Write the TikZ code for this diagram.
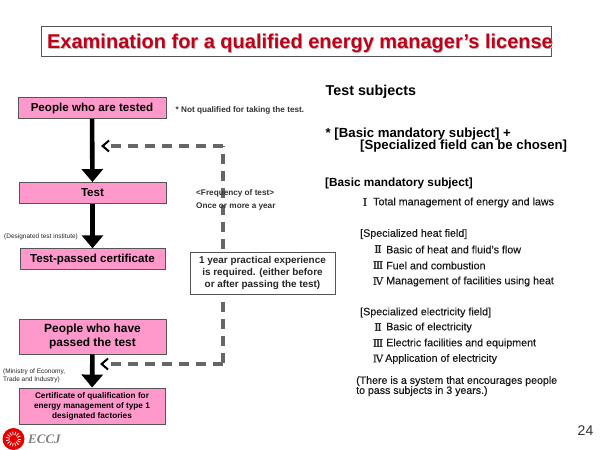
\documentclass[tikz,border=0pt]{standalone}
\usepackage{fontspec}
\setmainfont{Liberation Sans}
\newfontfamily\semifont[FakeBold=0.25]{Liberation Sans}
\newfontfamily\romanfont[FakeBold=0.5]{DejaVu Serif}
\newfontfamily\logofont{Liberation Serif}
\usetikzlibrary{arrows.meta}
\definecolor{boxpink}{HTML}{FF99CC}
\definecolor{titlered}{HTML}{C00018}
\definecolor{edgegray}{HTML}{555555}
\definecolor{dashgray}{HTML}{666666}
\tikzset{
  pinkbox/.style={draw=edgegray,line width=0.9pt,fill=boxpink,align=center,inner sep=0pt,font=\bfseries,text=black},
  oneline/.style={text height=8.3pt,text depth=2.3pt},
  thickarrow/.style={line width=4.6pt,-{Triangle[length=13pt,width=21pt]}},
  dasharrow/.style={line width=3.3pt,dashgray,dash pattern=on 10pt off 7pt,-{Straight Barb[length=6.5pt,width=11pt,line width=2pt,black]}},
  dashline/.style={line width=3.3pt,dashgray,dash pattern=on 10pt off 7pt},
  small/.style={anchor=west,inner sep=0pt,font=\fontsize{8.2}{10}\selectfont\bfseries,text=black!80},
  tiny/.style={anchor=west,inner sep=0pt,align=left,font=\fontsize{6.5}{7.6}\selectfont,text=black!85},
  subj/.style={anchor=west,inner sep=0pt,font=\fontsize{10.7}{12}\semifont,text=black!90},
  numeral/.style={anchor=center,inner sep=0pt,font=\fontsize{10.5}{12}\romanfont,text=black!85},
  head/.style={anchor=west,inner sep=0pt,align=left,font=\fontsize{13.2}{14}\selectfont\bfseries,text=black}
}
\begin{document}
\begin{tikzpicture}[x=1pt,y=-1pt]
\useasboundingbox (0,0) rectangle (600,450);
\fill[white] (0,0) rectangle (600,450);
% title
\node[draw=edgegray,line width=0.9pt,minimum width=510pt,minimum height=30pt,inner sep=0pt] (titlebox) at (296.5,41) {};
\node[inner sep=0pt,text=black!25,font=\fontsize{20}{24}\selectfont\bfseries] (titleshadow) at (300.8,44.4) {Examination for a qualified energy manager’s license};
\node[inner sep=0pt,text=titlered,font=\fontsize{20}{24}\selectfont\bfseries] (titletext) at (300,43.6) {Examination for a qualified energy manager’s license};
% pink boxes
\node[pinkbox,oneline,minimum width=148pt,minimum height=21pt,font=\fontsize{11.6}{12}\selectfont\bfseries] (tested) at (92,108) {People who are tested};
\node[pinkbox,oneline,minimum width=147pt,minimum height=21pt,font=\fontsize{11.6}{12}\selectfont\bfseries] (test) at (92.5,193) {Test};
\node[pinkbox,oneline,minimum width=145pt,minimum height=20.5pt,font=\fontsize{11.6}{12}\selectfont\bfseries] (passcert) at (92.5,259) {Test-passed certificate};
\node[pinkbox,minimum width=147pt,minimum height=35pt,font=\fontsize{11.9}{14.5}\selectfont\bfseries] (passed) at (92.5,336.5) {People who have\\passed the test};
\node[pinkbox,minimum width=146pt,minimum height=36pt,font=\fontsize{8.2}{10}\selectfont\bfseries] (cert) at (92,406) {Certificate of qualification for\\energy management of type 1\\designated factories};
% thick arrows
\draw[thickarrow] (tested) -- (test);
\draw[thickarrow] (test) -- (passcert);
\draw[thickarrow] (passed) -- (cert);
% dashed connectors
\node[draw=edgegray,line width=0.9pt,fill=white,minimum width=145pt,minimum height=42pt,align=center,inner sep=0pt,font=\fontsize{9.9}{12}\selectfont\bfseries,text=black!85] (note) at (262.5,273) {1 year practical experience\\is required. (either before\\or after passing the test)};
\coordinate (upcorner) at (223,146);
\coordinate (uptip) at (101,146);
\coordinate (lowcorner) at (223,364);
\coordinate (lowtip) at (100,364);
\draw[dashline] (note.north -| upcorner) ++(0,-3) -- (upcorner);
\draw[dasharrow] (upcorner) -- (uptip);
\draw[dashline] (note.south -| lowcorner) ++(0,8) -- (lowcorner);
\draw[dasharrow] (lowcorner) -- (lowtip);
% side text (over the dashes)
\node[small] (freq) at (196,193) {<Frequency of test>};
\node[small] (once) at (196,206) {Once or more a year};
% small notes
\node[small] (notq) at (175.5,110) {* Not qualified for taking the test.};
\node[tiny] (inst) at (4,236.5) {(Designated test institute)};
\node[tiny] (meti) at (3,376) {(Ministry of Economy,\\Trade and Industry)};
% right column
\node[anchor=west,inner sep=0pt,font=\fontsize{14.3}{16}\selectfont\bfseries] (subjhead) at (325.5,91.5) {Test subjects};
\node[head] (star) at (325.5,134) {* [Basic mandatory subject] +};
\node[head] (spec) at (360,146.5) {[Specialized field can be chosen]};
\node[anchor=west,inner sep=0pt,font=\fontsize{11.8}{14}\selectfont\bfseries] (basic) at (325,183.5) {[Basic mandatory subject]};
\node[numeral] (r1) at (365,202) {Ⅰ};
\node[subj] (t1) at (373,202.5) {Total management of energy and laws};
\node[subj] (heat) at (360,234) {[Specialized heat field]};
\node[numeral] (r2) at (378,249) {Ⅱ};
\node[subj] (t2) at (386,249.5) {Basic of heat and fluid’s  flow};
\node[numeral] (r3) at (378,265) {Ⅲ};
\node[subj] (t3) at (386,265.5) {Fuel and combustion};
\node[numeral] (r4) at (378,281) {Ⅳ};
\node[subj] (t4) at (386,281.5) {Management of facilities  using heat};
\node[subj] (elec) at (360,312.5) {[Specialized electricity field]};
\node[numeral] (r5) at (378,327) {Ⅱ};
\node[subj] (t5) at (386,327.5) {Basic of electricity};
\node[numeral] (r6) at (378,343) {Ⅲ};
\node[subj] (t6) at (386,343.5) {Electric facilities  and equipment};
\node[numeral] (r7) at (378,358.5) {Ⅳ};
\node[subj] (t7) at (385,359) {Application  of electricity};
\node[anchor=north west,inner sep=0pt,align=left,font=\fontsize{10.6}{10}\semifont,text=black!90] (system) at (356,376) {(There is a system that encourages people\\to pass subjects in 3 years.)};
\node[inner sep=0pt,font=\fontsize{14}{16}\selectfont,text=black!80] (pageno) at (585.5,431) {24};
% logo
\fill[red!90!black] (13.5,439) circle (11);
\foreach \a in {0,24,...,350}{\draw[white,line width=0.8pt] (13.5,439) ++(\a:4) -- ++(\a:3.5);}
\node[anchor=west,inner sep=0pt,text=black!50,font=\fontsize{13}{14}\logofont\bfseries\itshape] (eccj) at (28,439) {ECCJ};
\end{tikzpicture}
\end{document}
